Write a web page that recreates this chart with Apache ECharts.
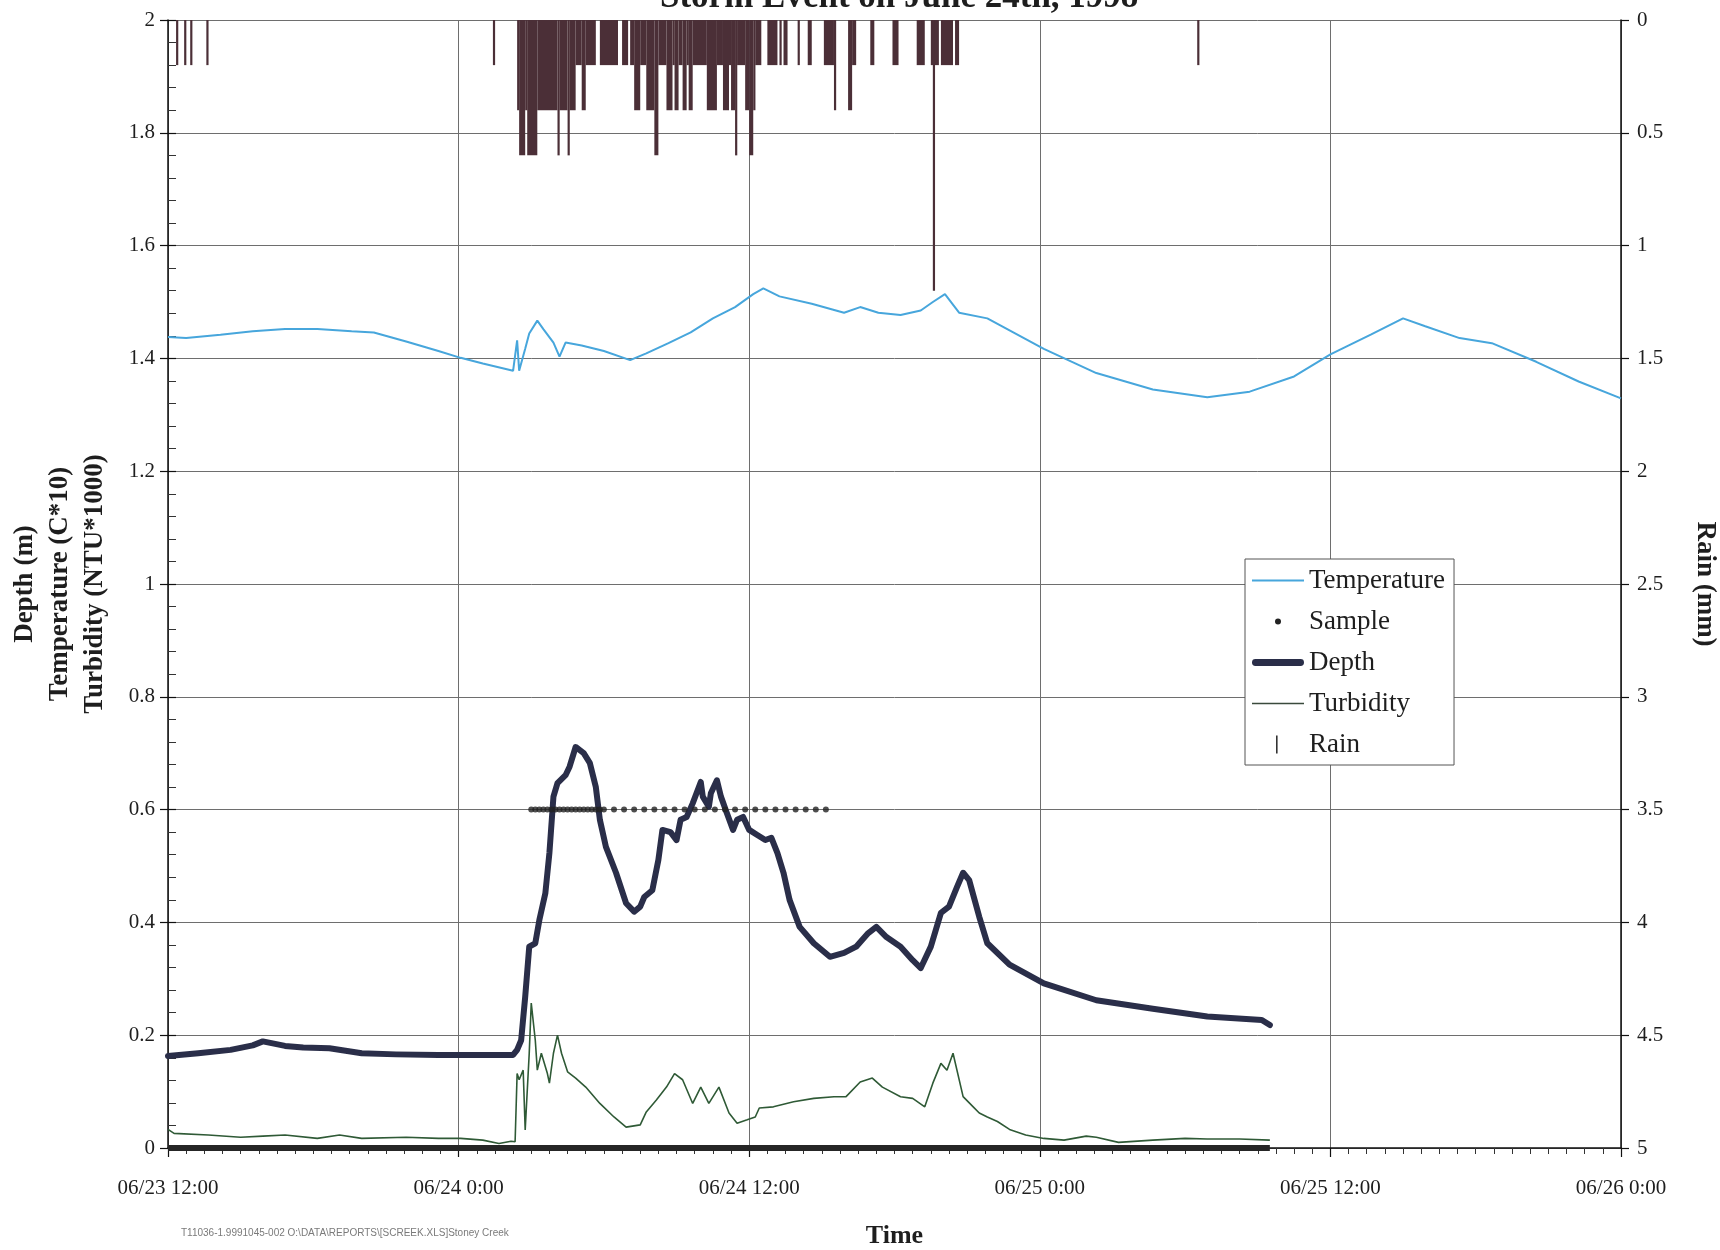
<!DOCTYPE html>
<html>
<head>
<meta charset="utf-8">
<script src="https://cdn.jsdelivr.net/npm/echarts@6/dist/echarts.min.js"></script>
<style>
  html, body { margin: 0; padding: 0; background: #fff; }
  #chart { width: 1720px; height: 1250px; }
</style>
</head>
<body>
<div id="chart"></div>
<script>
// Stoney Creek storm record, 23-26 June 1998 (times are local logger time, MM-DD HH:MM)
const YEAR = 1998;

// Water temperature (C*10)
const temperature = [
  ['06-23 12:00', 1.438], ['06-23 12:45', 1.436], ['06-23 14:10', 1.442], ['06-23 15:30', 1.448],
  ['06-23 16:50', 1.452], ['06-23 18:10', 1.452], ['06-23 19:35', 1.448], ['06-23 20:30', 1.446],
  ['06-23 21:50', 1.430], ['06-23 23:10', 1.413], ['06-24 00:05', 1.401], ['06-24 01:00', 1.391],
  ['06-24 02:15', 1.378], ['06-24 02:25', 1.432], ['06-24 02:30', 1.378], ['06-24 02:45', 1.417],
  ['06-24 02:55', 1.444], ['06-24 03:15', 1.467], ['06-24 03:30', 1.452], ['06-24 03:55', 1.428],
  ['06-24 04:10', 1.403], ['06-24 04:25', 1.428], ['06-24 05:05', 1.423], ['06-24 06:00', 1.413],
  ['06-24 07:05', 1.397], ['06-24 07:45', 1.409], ['06-24 08:40', 1.427], ['06-24 09:35', 1.446],
  ['06-24 10:30', 1.471], ['06-24 11:25', 1.491], ['06-24 12:10', 1.514], ['06-24 12:35', 1.524],
  ['06-24 13:15', 1.510], ['06-24 14:35', 1.497], ['06-24 15:55', 1.481], ['06-24 16:35', 1.491],
  ['06-24 17:20', 1.481], ['06-24 18:15', 1.477], ['06-24 19:05', 1.485], ['06-24 19:35', 1.500],
  ['06-24 20:05', 1.514], ['06-24 20:40', 1.481], ['06-24 21:50', 1.471], ['06-25 00:10', 1.417],
  ['06-25 02:20', 1.374], ['06-25 04:40', 1.345], ['06-25 06:55', 1.331], ['06-25 08:40', 1.341],
  ['06-25 10:30', 1.368], ['06-25 12:00', 1.407], ['06-25 13:40', 1.442], ['06-25 15:00', 1.471],
  ['06-25 15:55', 1.457], ['06-25 17:20', 1.436], ['06-25 18:40', 1.427], ['06-25 20:30', 1.394],
  ['06-25 22:15', 1.359], ['06-26 00:00', 1.329]
];

// Stage depth (m)
const depth = [
  ['06-23 12:00', 0.163], ['06-23 13:15', 0.168], ['06-23 14:35', 0.174], ['06-23 15:30', 0.182],
  ['06-23 15:55', 0.189], ['06-23 16:50', 0.181], ['06-23 17:35', 0.178], ['06-23 18:40', 0.177],
  ['06-23 20:00', 0.168], ['06-23 21:25', 0.166], ['06-23 23:10', 0.165], ['06-24 01:00', 0.165],
  ['06-24 02:15', 0.165], ['06-24 02:25', 0.174], ['06-24 02:35', 0.191], ['06-24 02:45', 0.268],
  ['06-24 02:55', 0.357], ['06-24 03:10', 0.363], ['06-24 03:20', 0.404], ['06-24 03:35', 0.452],
  ['06-24 03:45', 0.523], ['06-24 03:55', 0.623], ['06-24 04:05', 0.647], ['06-24 04:25', 0.661],
  ['06-24 04:35', 0.676], ['06-24 04:50', 0.711], ['06-24 05:10', 0.700], ['06-24 05:25', 0.683],
  ['06-24 05:40', 0.640], ['06-24 05:50', 0.582], ['06-24 06:05', 0.534], ['06-24 06:30', 0.488],
  ['06-24 06:55', 0.434], ['06-24 07:15', 0.419], ['06-24 07:30', 0.428], ['06-24 07:40', 0.445],
  ['06-24 08:00', 0.457], ['06-24 08:15', 0.511], ['06-24 08:25', 0.564], ['06-24 08:45', 0.560],
  ['06-24 09:00', 0.546], ['06-24 09:10', 0.582], ['06-24 09:25', 0.587], ['06-24 09:40', 0.611],
  ['06-24 10:00', 0.649], ['06-24 10:05', 0.623], ['06-24 10:20', 0.605], ['06-24 10:25', 0.629],
  ['06-24 10:40', 0.652], ['06-24 10:50', 0.623], ['06-24 11:05', 0.593], ['06-24 11:20', 0.564],
  ['06-24 11:30', 0.582], ['06-24 11:45', 0.587], ['06-24 12:00', 0.564], ['06-24 12:20', 0.555],
  ['06-24 12:40', 0.546], ['06-24 12:55', 0.550], ['06-24 13:10', 0.523], ['06-24 13:25', 0.488],
  ['06-24 13:40', 0.440], ['06-24 14:05', 0.392], ['06-24 14:40', 0.363], ['06-24 15:20', 0.339],
  ['06-24 15:55', 0.346], ['06-24 16:25', 0.357], ['06-24 16:55', 0.381], ['06-24 17:15', 0.392],
  ['06-24 17:40', 0.374], ['06-24 18:15', 0.357], ['06-24 18:45', 0.333], ['06-24 19:05', 0.319],
  ['06-24 19:30', 0.357], ['06-24 19:55', 0.417], ['06-24 20:15', 0.428], ['06-24 20:35', 0.463],
  ['06-24 20:50', 0.488], ['06-24 21:05', 0.475], ['06-24 21:30', 0.410], ['06-24 21:50', 0.363],
  ['06-24 22:45', 0.325], ['06-25 00:10', 0.292], ['06-25 02:20', 0.262], ['06-25 04:40', 0.247],
  ['06-25 06:55', 0.233], ['06-25 09:10', 0.227], ['06-25 09:30', 0.218]
];

// Turbidity (NTU*1000)
const turbidity = [
  ['06-23 12:00', 0.033], ['06-23 12:15', 0.026], ['06-23 13:40', 0.023], ['06-23 15:00', 0.019],
  ['06-23 15:55', 0.021], ['06-23 16:50', 0.023], ['06-23 18:10', 0.017], ['06-23 19:05', 0.023],
  ['06-23 20:00', 0.017], ['06-23 21:50', 0.019], ['06-23 23:10', 0.017], ['06-24 00:05', 0.017],
  ['06-24 01:00', 0.014], ['06-24 01:40', 0.008], ['06-24 02:10', 0.012], ['06-24 02:20', 0.011],
  ['06-24 02:25', 0.132], ['06-24 02:30', 0.121], ['06-24 02:40', 0.138], ['06-24 02:45', 0.032],
  ['06-24 02:55', 0.168], ['06-24 03:00', 0.257], ['06-24 03:10', 0.191], ['06-24 03:15', 0.138],
  ['06-24 03:25', 0.168], ['06-24 03:40', 0.132], ['06-24 03:45', 0.115], ['06-24 03:55', 0.168],
  ['06-24 04:05', 0.200], ['06-24 04:15', 0.168], ['06-24 04:30', 0.135], ['06-24 04:50', 0.124],
  ['06-24 05:15', 0.108], ['06-24 05:50', 0.079], ['06-24 06:25', 0.055], ['06-24 06:55', 0.037],
  ['06-24 07:30', 0.041], ['06-24 07:45', 0.064], ['06-24 08:10', 0.085], ['06-24 08:35', 0.108],
  ['06-24 08:55', 0.132], ['06-24 09:15', 0.121], ['06-24 09:40', 0.079], ['06-24 10:00', 0.108],
  ['06-24 10:20', 0.079], ['06-24 10:45', 0.108], ['06-24 11:10', 0.062], ['06-24 11:30', 0.044],
  ['06-24 11:55', 0.050], ['06-24 12:15', 0.055], ['06-24 12:25', 0.071], ['06-24 13:00', 0.073],
  ['06-24 13:50', 0.082], ['06-24 14:40', 0.088], ['06-24 15:30', 0.091], ['06-24 16:00', 0.091],
  ['06-24 16:35', 0.117], ['06-24 17:05', 0.124], ['06-24 17:30', 0.108], ['06-24 18:15', 0.091],
  ['06-24 18:45', 0.088], ['06-24 19:15', 0.073], ['06-24 19:35', 0.115], ['06-24 19:55', 0.150],
  ['06-24 20:10', 0.138], ['06-24 20:25', 0.168], ['06-24 20:50', 0.091], ['06-24 21:15', 0.073],
  ['06-24 21:30', 0.062], ['06-24 21:50', 0.055], ['06-24 22:15', 0.047], ['06-24 22:45', 0.033],
  ['06-24 23:25', 0.023], ['06-25 00:10', 0.017], ['06-25 01:00', 0.014], ['06-25 01:55', 0.021],
  ['06-25 02:20', 0.019], ['06-25 03:15', 0.010], ['06-25 04:40', 0.014], ['06-25 06:00', 0.017],
  ['06-25 06:55', 0.016], ['06-25 08:15', 0.016], ['06-25 09:30', 0.014]
];

// Sampler: bottle fills plotted at 0.6, idle record at 0
const sampleTaken = [
  ['06-24 03:00', 0.6], ['06-24 03:10', 0.6], ['06-24 03:20', 0.6], ['06-24 03:30', 0.6],
  ['06-24 03:40', 0.6], ['06-24 03:50', 0.6], ['06-24 04:00', 0.6], ['06-24 04:10', 0.6],
  ['06-24 04:20', 0.6], ['06-24 04:30', 0.6], ['06-24 04:40', 0.6], ['06-24 04:50', 0.6],
  ['06-24 05:00', 0.6], ['06-24 05:10', 0.6], ['06-24 05:20', 0.6], ['06-24 05:30', 0.6],
  ['06-24 05:40', 0.6], ['06-24 05:50', 0.6], ['06-24 06:00', 0.6], ['06-24 06:25', 0.6],
  ['06-24 06:50', 0.6], ['06-24 07:15', 0.6], ['06-24 07:40', 0.6], ['06-24 08:05', 0.6],
  ['06-24 08:30', 0.6], ['06-24 08:55', 0.6], ['06-24 09:20', 0.6], ['06-24 09:45', 0.6],
  ['06-24 10:10', 0.6], ['06-24 10:35', 0.6], ['06-24 11:00', 0.6], ['06-24 11:25', 0.6],
  ['06-24 11:50', 0.6], ['06-24 12:15', 0.6], ['06-24 12:40', 0.6], ['06-24 13:05', 0.6],
  ['06-24 13:30', 0.6], ['06-24 13:55', 0.6], ['06-24 14:20', 0.6], ['06-24 14:45', 0.6],
  ['06-24 15:10', 0.6]
];
const sampleIdle = [['06-23 12:00', 0], ['06-25 09:30', 0]];

// Rain (mm per 5-minute record): [from, to, mm]
const rain = [
  ['06-23 12:20', '06-23 12:25', 0.2], ['06-23 12:40', '06-23 12:45', 0.2],
  ['06-23 12:55', '06-23 13:00', 0.2], ['06-23 13:35', '06-23 13:40', 0.2],
  ['06-24 01:25', '06-24 01:30', 0.2],
  ['06-24 02:25', '06-24 02:30', 0.4], ['06-24 02:30', '06-24 02:45', 0.6],
  ['06-24 02:45', '06-24 02:50', 0.4], ['06-24 02:50', '06-24 03:15', 0.6],
  ['06-24 03:15', '06-24 04:05', 0.4], ['06-24 04:05', '06-24 04:10', 0.6],
  ['06-24 04:10', '06-24 04:30', 0.4], ['06-24 04:30', '06-24 04:35', 0.6],
  ['06-24 04:35', '06-24 04:50', 0.4], ['06-24 04:50', '06-24 05:05', 0.2],
  ['06-24 05:05', '06-24 05:15', 0.4], ['06-24 05:15', '06-24 05:40', 0.2],
  ['06-24 05:50', '06-24 06:35', 0.2], ['06-24 06:45', '06-24 07:00', 0.2],
  ['06-24 07:05', '06-24 07:15', 0.2], ['06-24 07:15', '06-24 07:30', 0.4],
  ['06-24 07:30', '06-24 07:45', 0.2], ['06-24 07:45', '06-24 08:05', 0.4],
  ['06-24 08:05', '06-24 08:15', 0.6], ['06-24 08:15', '06-24 08:35', 0.2],
  ['06-24 08:35', '06-24 08:50', 0.4], ['06-24 08:50', '06-24 08:55', 0.2],
  ['06-24 08:55', '06-24 09:05', 0.4], ['06-24 09:05', '06-24 09:15', 0.2],
  ['06-24 09:15', '06-24 09:25', 0.4], ['06-24 09:25', '06-24 09:30', 0.2],
  ['06-24 09:30', '06-24 09:40', 0.4], ['06-24 09:40', '06-24 10:15', 0.2],
  ['06-24 10:15', '06-24 10:40', 0.4], ['06-24 10:40', '06-24 10:55', 0.2],
  ['06-24 10:55', '06-24 11:10', 0.4], ['06-24 11:10', '06-24 11:15', 0.2],
  ['06-24 11:15', '06-24 11:25', 0.4], ['06-24 11:25', '06-24 11:30', 0.6],
  ['06-24 11:30', '06-24 11:50', 0.2], ['06-24 11:50', '06-24 12:00', 0.4],
  ['06-24 12:00', '06-24 12:10', 0.6], ['06-24 12:10', '06-24 12:15', 0.4],
  ['06-24 12:15', '06-24 12:30', 0.2], ['06-24 12:45', '06-24 13:10', 0.2],
  ['06-24 13:15', '06-24 13:20', 0.2], ['06-24 13:25', '06-24 13:35', 0.2],
  ['06-24 14:00', '06-24 14:05', 0.2], ['06-24 14:25', '06-24 14:35', 0.2],
  ['06-24 15:05', '06-24 15:30', 0.2], ['06-24 15:30', '06-24 15:35', 0.4],
  ['06-24 16:05', '06-24 16:15', 0.4], ['06-24 16:15', '06-24 16:25', 0.2],
  ['06-24 17:00', '06-24 17:10', 0.2], ['06-24 17:55', '06-24 18:10', 0.2],
  ['06-24 18:55', '06-24 19:15', 0.2], ['06-24 19:30', '06-24 19:35', 0.2],
  ['06-24 19:35', '06-24 19:40', 1.2], ['06-24 19:40', '06-24 19:50', 0.2],
  ['06-24 19:55', '06-24 20:25', 0.2], ['06-24 20:30', '06-24 20:40', 0.2],
  ['06-25 06:30', '06-25 06:35', 0.2]
];

const timeStart = '06-23 12:00';
const timeEnd = '06-26 00:00';
const HOUR = 3600 * 1000;

function ms(s) {
  const [md, hm] = s.split(' ');
  const [mo, d] = md.split('-').map(Number);
  const [h, mi] = hm.split(':').map(Number);
  return Date.UTC(YEAR, mo - 1, d, h, mi);
}
const pad = n => (n < 10 ? '0' : '') + n;
const toXY = arr => arr.map(p => [ms(p[0]), p[1]]);

const SERIF = "'Liberation Serif', 'Times New Roman', serif";
const INK = '#1e1e1e';
const GRIDLINE = '#6e6e6e';

const chart = echarts.init(document.getElementById('chart'), null, { renderer: 'canvas' });

const gridRect = { left: 168, right: 99, top: 20, bottom: 102, containLabel: false, outerBoundsMode: 'none' };

chart.setOption({
  animation: false,
  backgroundColor: '#ffffff',
  title: [
    {
      text: 'Storm Event on June 24th, 1998',
      left: 655, top: -25,
      textStyle: { fontFamily: SERIF, fontWeight: 'bold', fontSize: 35, color: INK }
    },
    {
      text: 'T11036-1.9991045-002 O:\\DATA\\REPORTS\\[SCREEK.XLS]Stoney Creek',
      left: 176, top: 1223,
      textStyle: { fontFamily: 'Liberation Sans, Arial, sans-serif', fontWeight: 'normal', fontSize: 10, color: '#7a7a7a' }
    }
  ],
  grid: [
    Object.assign({}, gridRect),
    Object.assign({}, gridRect)
  ],
  legend: {
    orient: 'vertical',
    left: 1245, top: 559,
    itemWidth: 52, itemHeight: 20, itemGap: 14,
    padding: [8, 9, 7, 7],
    backgroundColor: '#ffffff',
    borderColor: '#555', borderWidth: 1,
    selectedMode: false,
    textStyle: { fontFamily: SERIF, fontSize: 27, lineHeight: 27, color: INK },
    itemStyle: { borderWidth: 0 },
    data: [
      { name: 'Temperature', icon: 'path://M0,0M52,20M0,9H52V11H0Z', itemStyle: { color: '#47a6dc', borderWidth: 0 } },
      { name: 'Sample', icon: 'path://M0,0M52,20M29,10A3,3,0,1,1,23,10A3,3,0,1,1,29,10Z', itemStyle: { color: '#222', borderWidth: 0 } },
      { name: 'Depth', icon: 'path://M0,0M52,20M3,6.5H49A3.5,3.5,0,0,1,49,13.5H3A3.5,3.5,0,0,1,3,6.5Z', itemStyle: { color: '#2a2e49', borderWidth: 0 } },
      { name: 'Turbidity', icon: 'path://M0,0M52,20M0,9.2H52V10.8H0Z', itemStyle: { color: '#3a4a3c', borderWidth: 0 } },
      { name: 'Rain', icon: 'path://M0,0M52,20M24,1H25.6V19H24Z', itemStyle: { color: '#333', borderWidth: 0 } }
    ]
  },
  xAxis: [
    {
      type: 'value', gridIndex: 0,
      min: ms(timeStart), max: ms(timeEnd), interval: 12 * HOUR,
      name: 'Time', nameLocation: 'middle', nameGap: 75,
      nameTextStyle: { fontFamily: SERIF, fontWeight: 'bold', fontSize: 26, color: INK },
      axisLine: { show: true, onZero: false, lineStyle: { color: '#111', width: 1.5 } },
      axisTick: { show: true, inside: false, length: 9, lineStyle: { color: '#111', width: 1.2 } },
      minorTick: { show: true, splitNumber: 16, length: 6, lineStyle: { color: '#333', width: 1 } },
      axisLabel: {
        margin: 30, fontFamily: SERIF, fontSize: 21, color: INK,
        formatter: v => {
          const d = new Date(v);
          return pad(d.getUTCMonth() + 1) + '/' + pad(d.getUTCDate()) + ' ' + d.getUTCHours() + ':' + pad(d.getUTCMinutes());
        }
      },
      splitLine: { show: true, lineStyle: { color: GRIDLINE, width: 1 } }
    },
    {
      type: 'value', gridIndex: 1, show: false,
      min: ms(timeStart), max: ms(timeEnd)
    }
  ],
  yAxis: [
    {
      type: 'value', gridIndex: 0, position: 'left',
      min: 0, max: 2, interval: 0.2,
      name: 'Depth (m)\nTemperature (C*10)\nTurbidity (NTU*1000)',
      nameLocation: 'middle', nameRotate: 90, nameGap: 55,
      nameTextStyle: { fontFamily: SERIF, fontWeight: 'bold', fontSize: 27, color: INK, lineHeight: 35, align: 'center' },
      axisLine: { show: true, lineStyle: { color: '#111', width: 1.5 } },
      axisTick: { show: true, inside: true, length: 8, lineStyle: { color: '#111', width: 1.2 } },
      minorTick: { show: true, splitNumber: 5, length: 8, lineStyle: { color: '#333', width: 1 } },
      axisLabel: { margin: 13, fontFamily: SERIF, fontSize: 21, color: INK },
      splitLine: { show: true, lineStyle: { color: GRIDLINE, width: 1 } }
    },
    {
      // rain gauge scale, zero at the top
      type: 'value', gridIndex: 0, position: 'right',
      min: 0, max: 5, interval: 0.5, inverse: true,
      name: 'Rain (mm)', nameLocation: 'middle', nameRotate: -90, nameGap: 70,
      nameTextStyle: { fontFamily: SERIF, fontWeight: 'bold', fontSize: 27, color: INK },
      axisLine: { show: true, lineStyle: { color: '#111', width: 1.5 } },
      axisTick: { show: true, inside: false, length: 8, lineStyle: { color: '#111', width: 1.2 } },
      axisLabel: { margin: 16, fontFamily: SERIF, fontSize: 21, color: INK },
      splitLine: { show: false }
    },
    {
      // outer half of the crossing major ticks on the left scale
      type: 'value', gridIndex: 1, position: 'left',
      min: 0, max: 2, interval: 0.2,
      axisLine: { show: false },
      axisTick: { show: true, inside: false, length: 8, lineStyle: { color: '#111', width: 1.2 } },
      axisLabel: { show: false },
      splitLine: { show: false }
    }
  ],
  series: [
    {
      name: 'Rain', type: 'custom', xAxisIndex: 0, yAxisIndex: 1, z: 2,
      encode: { x: [0, 1], y: 2 },
      data: rain.map(r => [ms(r[0]), ms(r[1]), r[2]]),
      renderItem: (params, api) => {
        const top = api.coord([api.value(0), 0]);
        const end = api.coord([api.value(1), api.value(2)]);
        const w = Math.max(end[0] - top[0], 2.2);
        return {
          type: 'rect',
          shape: { x: top[0], y: top[1], width: w, height: end[1] - top[1] },
          style: { fill: '#4b2f37' }
        };
      }
    },
    {
      name: 'Temperature', type: 'line', xAxisIndex: 0, yAxisIndex: 0, z: 3,
      data: toXY(temperature), symbol: 'none',
      lineStyle: { color: '#47a6dc', width: 2 }, itemStyle: { color: '#47a6dc' }
    },
    {
      name: 'Turbidity', type: 'line', xAxisIndex: 0, yAxisIndex: 0, z: 4,
      data: toXY(turbidity), symbol: 'none',
      lineStyle: { color: '#2f5a36', width: 1.6 }, itemStyle: { color: '#2f5a36' }
    },
    {
      name: 'Sample', type: 'line', xAxisIndex: 0, yAxisIndex: 0, z: 5,
      data: toXY(sampleIdle), symbol: 'none',
      lineStyle: { color: '#262626', width: 6 }, itemStyle: { color: '#262626' }
    },
    {
      name: 'Depth', type: 'line', xAxisIndex: 0, yAxisIndex: 0, z: 6,
      data: toXY(depth), symbol: 'none',
      lineStyle: { color: '#2a2e49', width: 6, cap: 'round', join: 'round' }, itemStyle: { color: '#2a2e49' }
    },
    {
      name: 'Sample', type: 'scatter', xAxisIndex: 0, yAxisIndex: 0, z: 7,
      data: toXY(sampleTaken), symbol: 'circle', symbolSize: 6,
      itemStyle: { color: '#222' }
    }
  ]
});
</script>
</body>
</html>
